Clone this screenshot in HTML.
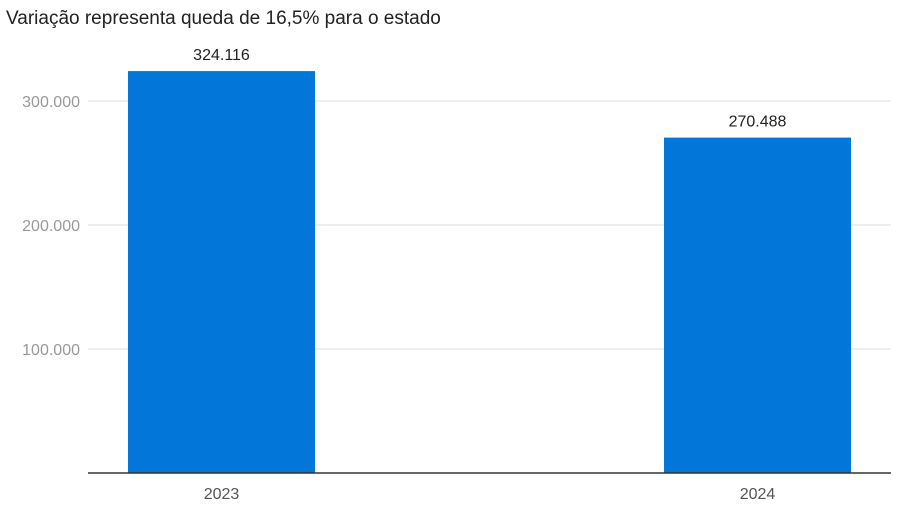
<!DOCTYPE html>
<html><head><meta charset="utf-8"><style>
body{margin:0;background:#fff;font-family:"Liberation Sans",sans-serif;}
</style></head><body>
<svg width="906" height="509" xmlns="http://www.w3.org/2000/svg">
<text x="6" y="24" font-size="19" fill="#222">Variação representa queda de 16,5% para o estado</text>
<g id="plot"></g>
</svg>
<script>
const categories=["2023","2024"];
const values=[324116,270488];
const valueLabels=["324.116","270.488"];
const ticks=[100000,200000,300000];
const tickLabels=["100.000","200.000","300.000"];
const x0=88,x1=891,yBase=473,pxPer=124/100000;
const y=v=>yBase-v*pxPer;
const firstOffset=133.5,step=536;
const xc=i=>x0+firstOffset+i*step;
const bw=187;
const g=document.getElementById('plot');
const ns="http://www.w3.org/2000/svg";
function mk(t,a){const e=document.createElementNS(ns,t);for(const k in a)e.setAttribute(k,a[k]);g.appendChild(e);return e;}
ticks.forEach((t,i)=>{
 const l=mk('line',{x1:x0,x2:x1,y1:y(t),y2:y(t),stroke:'#ddd','stroke-width':1});
 
 
 const tx=mk('text',{x:80,y:y(t)+6,'text-anchor':'end','font-size':16,fill:'#999'});
 tx.textContent=tickLabels[i];
 
 
});
categories.forEach((c,i)=>{
 const cx=xc(i);
 const r=mk('rect',{x:cx-bw/2,y:y(values[i]),width:bw,height:yBase-y(values[i]),fill:'#0277d9'});
 
 
 const v=mk('text',{x:cx,y:y(values[i])-11,'text-anchor':'middle','font-size':16,fill:'#222'});
 v.textContent=valueLabels[i];
 
 
 const xl=mk('text',{x:cx,y:499,'text-anchor':'middle','font-size':16,fill:'#555'});
 xl.textContent=c;
 
 
});
const ax=mk('line',{x1:x0,x2:x1,y1:yBase,y2:yBase,stroke:'#333','stroke-width':1.5});


</script>
</body></html>
